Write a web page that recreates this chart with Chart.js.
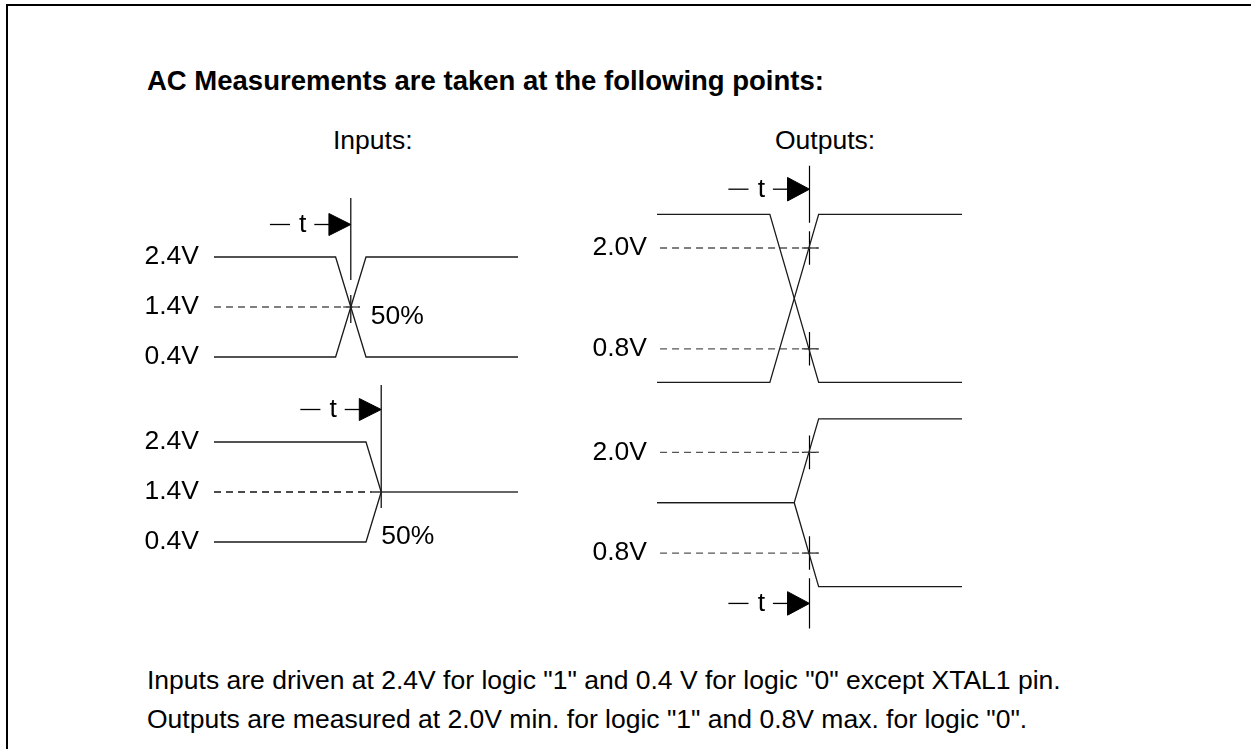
<!DOCTYPE html>
<html>
<head>
<meta charset="utf-8">
<title>AC Measurements</title>
<script src="https://cdn.jsdelivr.net/npm/chart.js@4.4.0/dist/chart.umd.min.js"></script>
<style>
  body { margin: 0; width: 1251px; height: 749px; overflow: hidden; position: relative; background: #fff;
         font-family: "Liberation Sans", Arial, sans-serif; color: #000; }
  #frame { position: absolute; left: 6px; top: 4px; right: 0; bottom: 0;
           border-top: 2px solid #000; border-left: 2px solid #000; }
  .txt { position: absolute; white-space: nowrap; line-height: 1; font-size: 26.5px; }
  canvas { position: absolute; }
</style>
</head>
<body>
<div id="frame"></div>
<div class="txt" style="left:147px;top:67px;font-size:27.5px;font-weight:bold">AC Measurements are taken at the following points:</div>
<div class="txt" style="left:333px;top:127px">Inputs:</div>
<div class="txt" style="left:775px;top:127px">Outputs:</div>

<canvas id="inTop" width="388" height="175" style="left:130px;top:192px"></canvas>
<canvas id="inBot" width="388" height="175" style="left:130px;top:377px"></canvas>
<canvas id="outTop" width="395" height="231" style="left:567px;top:164px"></canvas>
<canvas id="outBot" width="395" height="235" style="left:567px;top:402px"></canvas>

<div class="txt" style="left:147px;top:667px">Inputs are driven at 2.4V for logic "1" and 0.4 V for logic "0" except XTAL1 pin.</div>
<div class="txt" style="left:147px;top:706px">Outputs are measured at 2.0V min. for logic "1" and 0.8V max. for logic "0".</div>

<script>
// x = time units across a panel (0..100), y = volts
const inLevels = [0.4, 1.4, 2.4];
const outLevels = [0.8, 2.0];

// inputs, upper: complementary edges crossing at 50%
const inEdgeT = [0, 40, 50, 100];
const inRiseV = [0.4, 0.4, 2.4, 2.4];
const inFallV = [2.4, 2.4, 0.4, 0.4];
const inRefT = [0, 48];
const inMarkT = 45;
const inMarkV = [[3.58, 1.94], [1.64, 1.08]];

// inputs, lower: both edges end on 1.4V
const in2EdgeT = [0, 50, 55];
const in2FallV = [2.4, 2.4, 1.4];
const in2RiseV = [0.4, 0.4, 1.4];
const in2LevelT = [52, 100];
const in2RefT = [0, 52];
const in2MarkT = 55;
const in2MarkV = [[3.54, 1.08]];

// outputs, upper
const outEdgeT = [0, 37, 53, 100];
const outRiseV = [0.4, 0.4, 2.4, 2.4];
const outFallV = [2.4, 2.4, 0.4, 0.4];
const outRefT = [1, 53];
const outMarkT = 50;
const outMarkV = [[2.98, 2.3], [2.2, 1.8], [1.0, 0.6]];

// outputs, lower: from float (1.4V) to high / low
const out2EdgeT = [0, 45, 53, 100];
const out2RiseV = [1.4, 1.4, 2.4, 2.4];
const out2FallV = [1.4, 1.4, 0.4, 0.4];
const out2MarkT = 50;
const out2MarkV = [[2.2, 1.8], [1.0, 0.6], [0.5, -0.1]];

// arrow levels (volts) for the "— t —▶" markers
const inArrowV = 3.05, in2ArrowV = 3.05, outArrowV = 2.7, out2ArrowV = 0.2;

const FONT = '"Liberation Sans", Arial, sans-serif';

function line(xs, ys, opt) {
  return Object.assign({
    data: xs.map((x, i) => ({x: x, y: ys[i]})),
    showLine: true, pointRadius: 0, borderColor: '#1a1a1a', borderWidth: 1.3,
    clip: false, fill: false
  }, opt || {});
}
function hline(x0, x1, v, opt) { return line([x0, x1], [v, v], opt); }
function dashed(xs, v) { return hline(xs[0], xs[1], v, {borderColor: '#555', borderDash: [7, 5]}); }
function marks(t, spans) { return spans.map(s => line([t, t], s, {borderColor: '#000', borderWidth: 1.2})); }
function arrow(m, v, half) {
  return [
    hline(m - 26.6, m - 20, v, {borderColor: '#000'}),
    hline(m - 12, m - 7, v, {borderColor: '#000'}),
    line([m - 7.2, m, m - 7.2, m - 7.2], [v + half, v, v - half, v + half],
         {fill: 'shape', backgroundColor: '#000', borderColor: '#000', borderWidth: 1})
  ];
}

const notesPlugin = {
  id: 'notes',
  afterDatasetsDraw(chart, args, opts) {
    const ctx = chart.ctx, x = chart.scales.x, y = chart.scales.y;
    ctx.save();
    ctx.font = '26.5px ' + FONT;
    ctx.fillStyle = '#000';
    ctx.textBaseline = 'middle';
    (opts.items || []).forEach(n => {
      ctx.textAlign = n.align || 'left';
      ctx.fillText(n.text, x.getPixelForValue(n.x), y.getPixelForValue(n.y));
    });
    ctx.restore();
  }
};

function panel(id, p) {
  return new Chart(document.getElementById(id), {
    type: 'scatter',
    data: {datasets: p.datasets},
    options: {
      responsive: false,
      animation: false,
      events: [],
      layout: {padding: 0},
      plugins: {legend: {display: false}, tooltip: {enabled: false}, notes: {items: p.notes}},
      scales: {
        x: {type: 'linear', min: 0, max: 100, display: false},
        y: {
          type: 'linear', min: p.yMin, max: p.yMax,
          grid: {display: false, drawTicks: false},
          border: {display: false},
          afterBuildTicks: s => { s.ticks = p.levels.map(v => ({value: v})); },
          afterFit: s => { s.width = p.axisWidth; s.paddingTop = 0; s.paddingBottom = 0; },
          ticks: {
            autoSkip: false, padding: p.gap, color: '#000',
            font: {family: FONT, size: 26.5},
            callback: v => v.toFixed(1) + 'V'
          }
        }
      }
    },
    plugins: [notesPlugin]
  });
}

panel('inTop', {
  yMin: 0.2, yMax: 3.7, axisWidth: 84, gap: 15, levels: inLevels,
  datasets: [
    line(inEdgeT, inRiseV), line(inEdgeT, inFallV),
    dashed(inRefT, 1.4), hline(42.5, 48, 1.4, {borderColor: '#444'}),
    ...marks(inMarkT, inMarkV), ...arrow(inMarkT, inArrowV, 0.22)
  ],
  notes: [{text: 't', x: inMarkT - 15.8, y: inArrowV, align: 'center'}, {text: '50%', x: 51.6, y: 1.2}]
});

panel('inBot', {
  yMin: 0.2, yMax: 3.7, axisWidth: 84, gap: 15, levels: inLevels,
  datasets: [
    line(in2EdgeT, in2FallV), line(in2EdgeT, in2RiseV),
    hline(in2LevelT[0], in2LevelT[1], 1.4, {borderColor: '#333'}),
    Object.assign(dashed(in2RefT, 1.4), {borderColor: '#111'}),
    ...marks(in2MarkT, in2MarkV), ...arrow(in2MarkT, in2ArrowV, 0.22)
  ],
  notes: [{text: 't', x: in2MarkT - 15.8, y: in2ArrowV, align: 'center'}, {text: '50%', x: 55, y: 0.5}]
});

panel('outTop', {
  yMin: 0.25, yMax: 3.0, axisWidth: 90, gap: 10, levels: outLevels,
  datasets: [
    line(outEdgeT, outFallV), line(outEdgeT, outRiseV),
    dashed(outRefT, 2.0), dashed(outRefT, 0.8),
    hline(47.5, 53, 2.0, {borderColor: '#333'}), hline(47.5, 53, 0.8, {borderColor: '#333'}),
    ...marks(outMarkT, outMarkV), ...arrow(outMarkT, outArrowV, 0.14)
  ],
  notes: [{text: 't', x: outMarkT - 15.8, y: outArrowV, align: 'center'}]
});

panel('outBot', {
  yMin: -0.2, yMax: 2.6, axisWidth: 90, gap: 10, levels: outLevels,
  datasets: [
    line(out2EdgeT, out2RiseV), line(out2EdgeT, out2FallV),
    dashed(outRefT, 2.0), dashed(outRefT, 0.8),
    hline(47.5, 53, 2.0, {borderColor: '#333'}), hline(47.5, 53, 0.8, {borderColor: '#333'}),
    ...marks(out2MarkT, out2MarkV), ...arrow(out2MarkT, out2ArrowV, 0.14)
  ],
  notes: [{text: 't', x: out2MarkT - 15.8, y: out2ArrowV, align: 'center'}]
});
</script>
</body>
</html>
